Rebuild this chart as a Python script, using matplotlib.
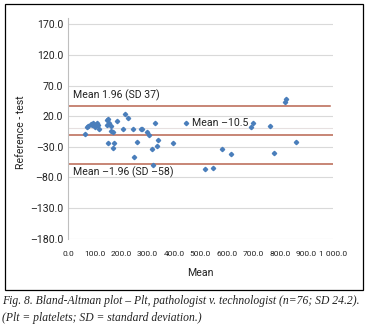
import matplotlib
matplotlib.use("Agg")
from matplotlib import pyplot as plt
from matplotlib.patches import Rectangle
from matplotlib.ticker import FuncFormatter, MultipleLocator

plt.rcParams['font.family'] = ['Roboto', 'DejaVu Sans']

# mean of the two counts vs difference (reference - test)
mean_vals = [64, 71, 77, 86, 94, 103, 108, 114, 116, 146, 148, 156, 161, 162, 171,
             152, 174, 169, 185, 206, 214, 225, 244, 250, 259, 274, 279, 297, 306,
             317, 320, 329, 335, 340, 398, 445, 518, 549, 580, 615, 690, 698, 763,
             778, 859, 819, 823, 152, 100, 90]
diff_vals = [-9.5, 2.9, 4.0, 7.3, 8.4, 1.9, 9.4, 6.1, -1.4, 13.8, 5.1, 9.4, 4.0, -4.2,
             -5.3, -23.3, -23.3, -31.4, 12.7, -1.4, 23.6, 16.6, -1.4, -47.1, -21.6,
             -1.4, -1.4, -5.3, -10.7, -33.0, -59.2, 8.4, -29.1, -18.9, -23.7, 8.4,
             -66.2, -64.6, -33.5, -41.7, 2.9, 8.4, 4.0, -40.6, -22.6, 43.7, 48.1,
             15.4, 6.0, 5.0]

mean_diff = -10.5
upper_loa = 37
lower_loa = -58

W, H = 366, 327
fig = plt.figure(figsize=(W / 100, H / 100), dpi=100)

# black frame round the chart
fig.patches.append(Rectangle((5 / W, 1 - 290 / H), 357.5 / W, 286 / H,
                             transform=fig.transFigure, fill=False,
                             edgecolor='black', linewidth=0.9))

ax = fig.add_axes([68 / W, 1 - 238.7 / H, 265 / W, 220.5 / H])
ax.set_xlim(0, 1000)
ax.set_ylim(-180, 180)
ax.yaxis.set_major_locator(MultipleLocator(50, offset=20))
ax.xaxis.set_major_locator(MultipleLocator(100))
ax.grid(axis='y', color='#d9d9d9', linewidth=0.8)
ax.set_axisbelow(True)
for s in ['top', 'right', 'bottom']:
    ax.spines[s].set_visible(False)
ax.spines['left'].set_color('#bfbfbf')
ax.spines['left'].set_linewidth(0.8)

ax.axhline(0, color='#e6e0e0', linewidth=0.8, zorder=1)
line_col = '#b8644f'
ax.axhline(upper_loa, xmax=0.99, color=line_col, linewidth=1.1, zorder=2)
ax.axhline(mean_diff, color=line_col, linewidth=1.1, zorder=2)
ax.axhline(lower_loa, color=line_col, linewidth=1.1, zorder=2)

ax.plot(mean_vals, diff_vals, linestyle='none', marker='D', markersize=2.2,
        color='#4a7ebb', zorder=3)

ax.text(19, 54, 'Mean 1.96 (SD 37)', fontsize=7.6, va='center', color='#222222')
ax.text(468, 8.6, 'Mean \u201310.5', fontsize=7.6, va='center', color='#222222')
ax.text(19, -70.7, 'Mean \u20131.96 (SD \u201358)', fontsize=7.6, va='center',
        color='#222222')

ax.yaxis.set_major_formatter(FuncFormatter(lambda v, p: f"{v:.1f}".replace('-', '\u2013')))
ax.xaxis.set_major_formatter(FuncFormatter(lambda v, p: f"{v:,.1f}".replace(',', ' ')))
ax.tick_params(axis='y', length=0, pad=3.6, labelsize=7.6, labelcolor='#222222')
ax.tick_params(axis='x', length=0, pad=9, labelsize=6.0, labelcolor='#222222')

ax.set_xlabel('Mean', fontsize=7.6, color='#222222')
ax.set_ylabel('Reference - test', fontsize=7.6, color='#222222')
ax.xaxis.set_label_coords(0.498, -0.156)
ax.xaxis.label.set_va('center')
ax.yaxis.set_label_coords(-0.177, 0.484)
ax.yaxis.label.set_va('center')

cap = dict(family='Liberation Serif', style='italic', fontsize=8.4, color='#222222',
           va='center', ha='left')
fig.text(2 / W, 1 - 300.7 / H,
         'Fig. 8. Bland-Altman plot \u2013 Plt, pathologist v. technologist (n=76; SD 24.2).',
         **cap)
fig.text(2 / W, 1 - 318.3 / H, '(Plt = platelets; SD = standard deviation.)', **cap)

fig.savefig('out.png', dpi=100)
